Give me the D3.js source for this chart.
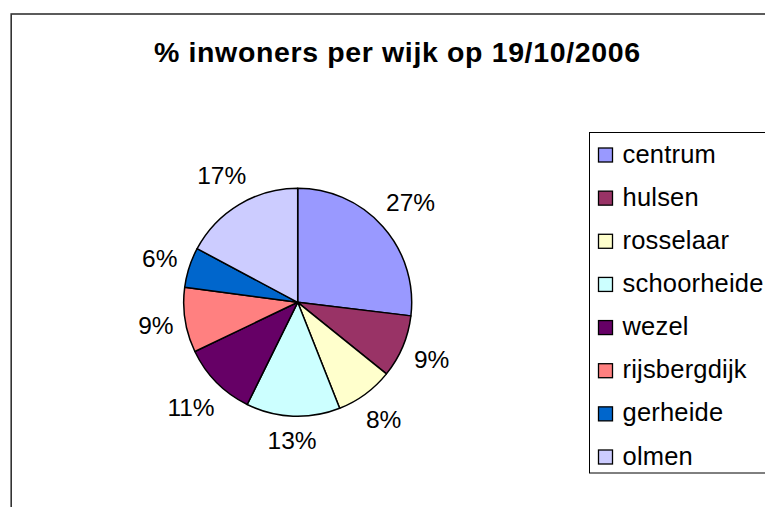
<!DOCTYPE html>
<html><head><meta charset="utf-8">
<script src="https://cdn.jsdelivr.net/npm/d3@7"></script>
<style>body{margin:0;background:#fff}svg{display:block}text{font-family:"Liberation Sans",Arial,Helvetica,sans-serif}</style>
</head><body>
<script>
const title = "% inwoners per wijk op 19/10/2006";
const categories = ["centrum","hulsen","rosselaar","schoorheide","wezel","rijsbergdijk","gerheide","olmen"];
const values = [26.9, 8.9, 8.2, 13.3, 10.6, 9.2, 5.7, 17.2];
const colors = ["#9999FF","#993366","#FFFFCC","#CCFFFF","#660066","#FF8080","#0066CC","#CCCCFF"];

const W = 765, H = 507;
const svg = d3.select("body").append("svg").attr("width", W).attr("height", H);

svg.append("rect").attr("x", 11.2).attr("y", 14).attr("width", W + 20).attr("height", H + 20)
  .attr("fill", "#fff").attr("stroke", "#333").attr("stroke-width", 1.6);

svg.append("text").attr("x", 397).attr("y", 61.7).attr("text-anchor", "middle")
  .attr("font-size", 28.5).attr("font-weight", "bold").attr("textLength", 486).attr("lengthAdjust", "spacing")
  .text(title);

const cx = 297.7, cy = 302.3, r = 114;
const total = d3.sum(values);
const pie = d3.pie().sort(null).value(d => d)(values);
const arc = d3.arc().innerRadius(0).outerRadius(r);
const g = svg.append("g").attr("transform", `translate(${cx},${cy})`);
g.selectAll("path").data(pie).join("path")
  .attr("d", arc).attr("fill", (d, i) => colors[i])
  .attr("stroke", "#000").attr("stroke-width", 1.5).attr("stroke-linejoin", "round");

const fmt = d3.format(".0%");
const R = 124, fs = 24.5;
g.selectAll("text.lab").data(pie).join("text").attr("class", "lab")
  .attr("text-anchor", "middle").attr("font-size", fs).attr("fill", "#000")
  .text(d => fmt(d.value / total))
  .each(function(d) {
    const a = (d.startAngle + d.endAngle) / 2;
    const ux = Math.sin(a), uy = -Math.cos(a);
    const w = this.getComputedTextLength(), h = 26;
    const dist = R + Math.abs(ux) * w / 2 + Math.abs(uy) * h / 2;
    d3.select(this).attr("x", dist * ux).attr("y", dist * uy + fs * 0.36);
  });

const legend = svg.append("g");
legend.append("rect").attr("x", 589.5).attr("y", 132.5).attr("width", 200).attr("height", 340.5)
  .attr("fill", "#fff").attr("stroke", "#000").attr("stroke-width", 1);
const ly = d3.scalePoint().domain(categories).range([155, 457]);
const items = legend.selectAll("g.it").data(categories).join("g").attr("class", "it")
  .attr("transform", d => `translate(0,${ly(d)})`);
items.append("rect").attr("x", 598.5).attr("y", -7).attr("width", 14).attr("height", 14)
  .attr("fill", (d, i) => colors[i]).attr("stroke", "#000").attr("stroke-width", 1.3);
items.append("text").attr("x", 622.5).attr("y", 7.5).attr("font-size", 25.5).attr("letter-spacing", 0.2).text(d => d);
</script>
</body></html>
